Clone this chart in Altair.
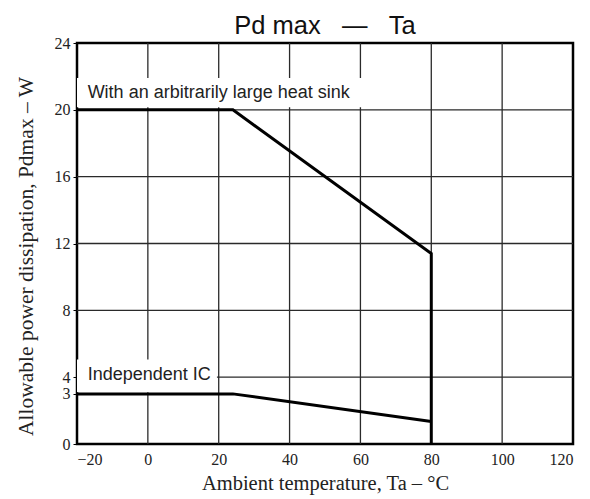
import altair as alt
import pandas as pd

# Data
heat_x = [-20, 24, 80, 80]
heat_y = [20, 20, 11.4, 0]
ic_x = [-20, 24, 80]
ic_y = [3, 3, 1.35]

x_ticks = [-20, 0, 20, 40, 60, 80, 100, 120]
y_ticks = [0, 3, 4, 8, 12, 16, 20, 24]
x_grid = [0, 20, 40, 60, 80, 100]
y_grid = [4, 8, 12, 16, 20]

label_text = ["With an arbitrarily large heat sink", "Independent IC"]
label_x = [-17, -17]
label_y = [21.0, 4.15]
# white background boxes behind labels (data units)
box_x = [-20, -20]
box_x2 = [62.7, 19.5]
box_y = [20.15, 3.1]
box_y2 = [21.9, 5.05]

lines_df = pd.DataFrame({
    "Ta": heat_x + ic_x,
    "Pd": heat_y + ic_y,
    "series": ["heat"] * len(heat_x) + ["ic"] * len(ic_x),
    "ord": list(range(len(heat_x))) + list(range(len(ic_x))),
})
xg_df = pd.DataFrame({"Ta": x_grid})
yg_df = pd.DataFrame({"Pd": y_grid})
lab_df = pd.DataFrame({"t": label_text, "Ta": label_x, "Pd": label_y})
box_df = pd.DataFrame({"Ta": box_x, "Ta2": box_x2, "Pd": box_y, "Pd2": box_y2})

xscale = alt.Scale(domain=[-20, 120], nice=False, zero=False)
yscale = alt.Scale(domain=[0, 24], nice=False)

xaxis = alt.Axis(values=x_ticks, title="Ambient temperature, Ta – °C",
                 grid=False, ticks=False, domain=False, labelPadding=7,
                 titlePadding=6, titleFontSize=20.5)
yaxis = alt.Axis(values=y_ticks, title="Allowable power dissipation, Pdmax – W",
                 grid=False, ticks=True, tickSize=4, tickColor="black",
                 domain=False, labelPadding=3, titleFontSize=21.5,
                 titleX=-40, titleY=213, titleAngle=270, titleBaseline="bottom")

X = alt.X("Ta:Q", scale=xscale, axis=xaxis)
Y = alt.Y("Pd:Q", scale=yscale, axis=yaxis)

grid_color = "#2a2a2a"

gx = alt.Chart(xg_df).mark_rule(color=grid_color, strokeWidth=1.3).encode(x=X)
gy = alt.Chart(yg_df).mark_rule(color=grid_color, strokeWidth=1.3).encode(y=Y)
boxes = alt.Chart(box_df).mark_rect(fill="white").encode(
    x=X, x2="Ta2:Q", y=Y, y2="Pd2:Q",
)
lines = alt.Chart(lines_df).mark_line(color="black", strokeWidth=3, strokeJoin="miter").encode(
    x=X, y=Y, detail="series:N", order="ord:Q",
)
labels = alt.Chart(lab_df).mark_text(
    align="left", baseline="middle", font="Liberation Sans", fontSize=18, color="#222"
).encode(x=X, y=Y, text="t:N")

chart = alt.layer(gx, gy, boxes, lines, labels).properties(
    width=496,
    height=401,
    title=alt.TitleParams(
        "Pd max\u00a0\u00a0\u00a0—\u00a0\u00a0\u00a0Ta",
        font="Liberation Sans", fontSize=25.5, fontWeight="normal",
        color="#111", anchor="middle", offset=-4,
    ),
    autosize=alt.AutoSizeParams(type="none"),
    padding={"left": 69, "top": 35, "right": 9, "bottom": 53},
).configure_view(
    stroke="black", strokeWidth=2.5
).configure_axis(
    labelFont="Liberation Sans Narrow",
    labelFontSize=16,
    labelColor="#222",
    titleFont="Liberation Serif",
    titleFontWeight="normal",
    titleColor="#222",
)

chart.save("out.html", embed_options={"renderer": "svg", "actions": False})
